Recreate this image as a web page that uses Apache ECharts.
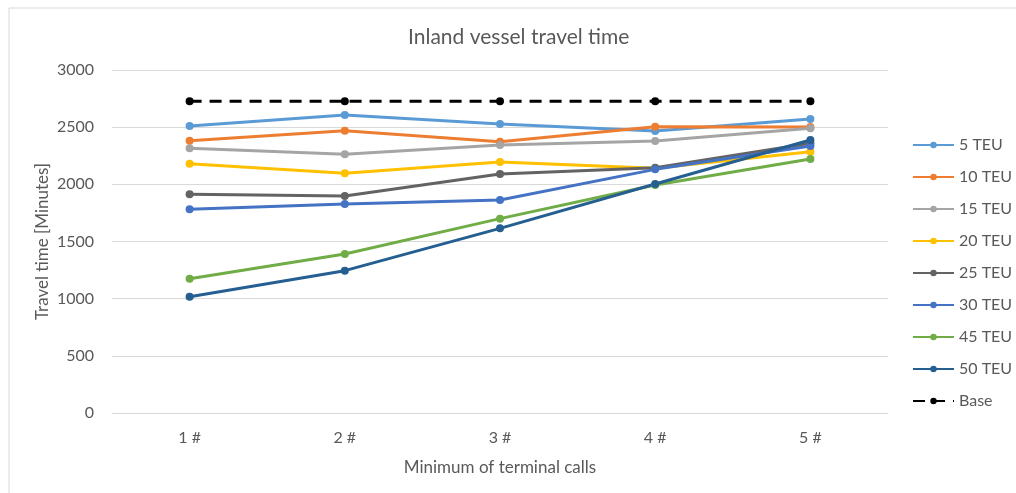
<!DOCTYPE html>
<html>
<head>
<meta charset="utf-8">
<script src="https://cdn.jsdelivr.net/npm/echarts@6/dist/echarts.min.js"></script>
<style>html,body{margin:0;padding:0;background:#fff;}#c{width:1016px;height:493px;}</style>
</head>
<body>
<div id="c"></div>
<script>
const categories = ['1 #', '2 #', '3 #', '4 #', '5 #'];
const seriesNames = ['5 TEU', '10 TEU', '15 TEU', '20 TEU', '25 TEU', '30 TEU', '45 TEU', '50 TEU', 'Base'];
const teu5  = [2510, 2606, 2528, 2466, 2571];
const teu10 = [2381, 2469, 2373, 2504, 2502];
const teu15 = [2315, 2263, 2344, 2379, 2490];
const teu20 = [2180, 2096, 2195, 2140, 2285];
const teu25 = [1913, 1898, 2090, 2145, 2359];
const teu30 = [1781, 1828, 1863, 2131, 2335];
const teu45 = [1175, 1391, 1700, 1994, 2221];
const teu50 = [1017, 1245, 1615, 2003, 2388];
const base  = [2727, 2727, 2727, 2727, 2727];
const colors = ['#5B9BD5', '#ED7D31', '#A5A5A5', '#FFC000', '#636363', '#4472C4', '#70AD47', '#255E91', '#000000'];
const allData = [teu5, teu10, teu15, teu20, teu25, teu30, teu45, teu50, base];

const font = 'Lato, "Open Sans", sans-serif';
const txt = '#595959';

const series = allData.map((d, i) => ({
  name: seriesNames[i],
  type: 'line',
  data: d,
  symbol: 'circle',
  symbolSize: 8,
  color: colors[i],
  lineStyle: { width: 3, type: i === 8 ? [12, 8] : 'solid', color: colors[i] },
  itemStyle: { color: colors[i] },
  z: i === 8 ? 3 : 2
}));

const chart = echarts.init(document.getElementById('c'), null, { renderer: 'canvas' });
chart.setOption({
  animation: false,
  backgroundColor: '#fff',
  graphic: [{
    type: 'rect', shape: { x: 9, y: 8, width: 1100, height: 600 },
    style: { fill: 'none', stroke: '#d9d9d9', lineWidth: 1 }, silent: true, z: -1
  }],
  title: {
    text: 'Inland vessel travel time',
    left: 403, top: 22,
    textStyle: { fontFamily: font, fontSize: 21, fontWeight: 'normal', color: txt }
  },
  legend: {
    orient: 'vertical',
    left: 907, top: 132,
    itemWidth: 41, itemHeight: 8, itemGap: 16,
    textStyle: { fontFamily: font, fontSize: 16, color: txt },
    data: seriesNames
  },
  grid: { left: 112, right: 128, top: 70, bottom: 80 },
  xAxis: {
    type: 'category',
    data: categories,
    boundaryGap: true,
    name: 'Minimum of terminal calls',
    nameLocation: 'middle', nameGap: 46,
    nameMoveOverlap: false,
    nameTextStyle: { fontFamily: font, fontSize: 17, color: txt },
    axisLine: { show: true, lineStyle: { color: '#d9d9d9' } },
    axisTick: { show: false },
    axisLabel: { fontFamily: font, fontSize: 16, color: txt, margin: 17 }
  },
  yAxis: {
    type: 'value',
    min: 0, max: 3000, interval: 500,
    name: 'Travel time [Minutes]',
    nameLocation: 'middle', nameGap: 61,
    nameMoveOverlap: false,
    nameTextStyle: { fontFamily: font, fontSize: 17, color: txt },
    axisLine: { show: false },
    axisTick: { show: false },
    axisLabel: { fontFamily: font, fontSize: 16, color: txt, margin: 18, formatter: v => String(v) },
    splitLine: { lineStyle: { color: '#d9d9d9', width: 1 } }
  },
  series: series
});
</script>
</body>
</html>
